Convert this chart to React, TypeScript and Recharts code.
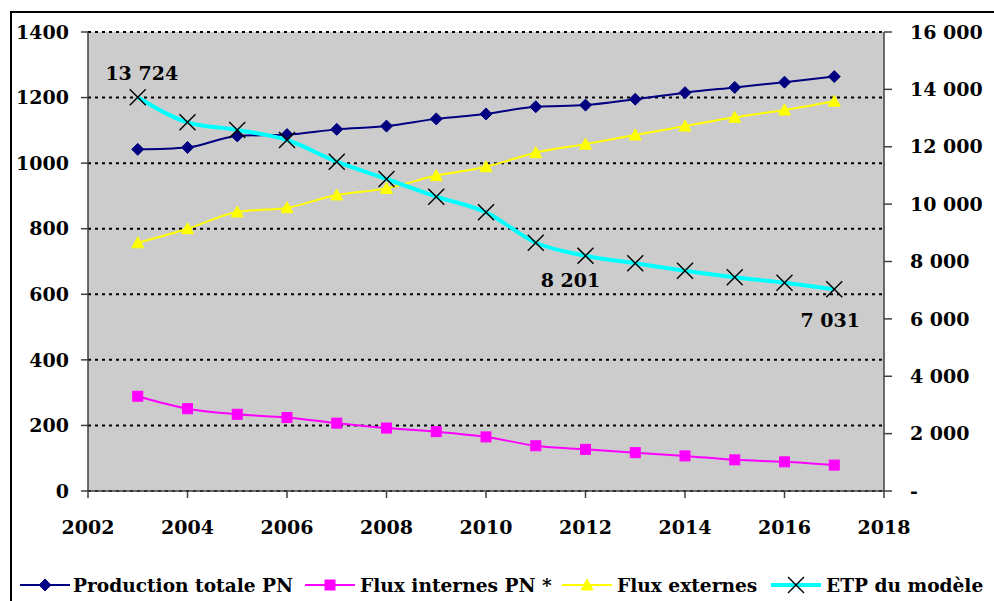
import React from "react";
import {
  ComposedChart,
  Line,
  XAxis,
  YAxis,
  CartesianGrid,
  Legend,
  LabelList,
} from "recharts";

const years = [2003, 2004, 2005, 2006, 2007, 2008, 2009, 2010, 2011, 2012, 2013, 2014, 2015, 2016, 2017];
const productionTotale = [1042, 1048, 1083, 1087, 1103, 1113, 1135, 1150, 1172, 1177, 1195, 1215, 1231, 1247, 1264];
const fluxInternes = [289, 251, 234, 224, 207, 192, 181, 165, 138, 127, 117, 107, 95, 89, 79];
const fluxExternes = [757, 800, 851, 864, 903, 923, 962, 989, 1032, 1058, 1086, 1113, 1140, 1162, 1189];
const etpModele = [13724, 12852, 12584, 12235, 11479, 10876, 10259, 9714, 8655, 8201, 7937, 7680, 7449, 7261, 7031];
const etpLabelled = [2003, 2012, 2017];

const xTicks = [2002, 2004, 2006, 2008, 2010, 2012, 2014, 2016, 2018];
const leftTicks = [0, 200, 400, 600, 800, 1000, 1200, 1400];
const rightTicks = [0, 2000, 4000, 6000, 8000, 10000, 12000, 14000, 16000];

const seriesNames = ["Production totale PN", "Flux internes PN *", "Flux externes", "ETP du modèle"];

const data = years.map((year, i) => ({
  year,
  prod: productionTotale[i],
  internes: fluxInternes[i],
  externes: fluxExternes[i],
  etp: etpModele[i],
  etpLabel: etpLabelled.includes(year) ? etpModele[i] : undefined,
}));

const FONT = "'DejaVu Serif', serif";
const NAVY = "#000080";
const MAGENTA = "#FF00FF";
const YELLOW = "#FFFF00";
const CYAN = "#00FFFF";

const fmtThousands = (v: number) =>
  v === 0 ? "-" : String(v).replace(/\B(?=(\d{3})+(?!\d))/g, " ");

const Diamond = ({ cx, cy }: any) => (
  <polygon points={`${cx},${cy - 6} ${cx + 6},${cy} ${cx},${cy + 6} ${cx - 6},${cy}`} fill={NAVY} stroke={NAVY} />
);
const Square = ({ cx, cy }: any) => (
  <rect x={cx - 5} y={cy - 5} width={10} height={10} fill={MAGENTA} stroke={MAGENTA} />
);
const Triangle = ({ cx, cy }: any) => (
  <polygon points={`${cx},${cy - 6} ${cx + 6},${cy + 5} ${cx - 6},${cy + 5}`} fill={YELLOW} stroke={YELLOW} />
);
const Cross = ({ cx, cy }: any) => (
  <g stroke="#000" strokeWidth={1.5}>
    <line x1={cx - 8} y1={cy - 8} x2={cx + 8} y2={cy + 8} />
    <line x1={cx - 8} y1={cy + 8} x2={cx + 8} y2={cy - 8} />
  </g>
);

// label placement around the ETP points
const labelOffsets: Record<number, [number, number]> = {
  2003: [4, -24],
  2012: [-15, 24],
  2017: [-4, 31],
};

const EtpLabel = (props: any) => {
  const { x, y, value, index } = props;
  if (value === undefined || value === null) return null;
  const [dx, dy] = labelOffsets[years[index]] || [0, 0];
  return (
    <text
      x={x + dx}
      y={y + dy}
      textAnchor="middle"
      dominantBaseline="central"
      fontFamily={FONT}
      fontWeight="bold"
      fontSize={19}
      fill="#000"
    >
      {fmtThousands(value)}
    </text>
  );
};

const legendItems = [
  { name: seriesNames[0], color: NAVY, width: 2, Marker: Diamond, x0: 20, tx: 73 },
  { name: seriesNames[1], color: MAGENTA, width: 2, Marker: Square, x0: 305, tx: 360 },
  { name: seriesNames[2], color: YELLOW, width: 2, Marker: Triangle, x0: 562, tx: 617 },
  { name: seriesNames[3], color: CYAN, width: 4, Marker: Cross, x0: 771, tx: 826 },
];

const LegendRow = () => (
  <svg width={994} height={50}>
    {legendItems.map((it) => (
      <g key={it.name}>
        <line x1={it.x0} y1={34} x2={it.x0 + 50} y2={34} stroke={it.color} strokeWidth={it.width} />
        <it.Marker cx={it.x0 + 25} cy={34} />
        <text x={it.tx} y={41} fontFamily={FONT} fontWeight="bold" fontSize={18.6} fill="#000">
          {it.name}
        </text>
      </g>
    ))}
  </svg>
);

const tickStyle = { fontFamily: FONT, fontWeight: "bold", fontSize: 19, fill: "#000" };

export default function App() {
  return (
    <div style={{ position: "absolute", left: 0, top: 0, width: 994, height: 601, overflow: "hidden", background: "#fff" }}>
      <div
        style={{
          position: "absolute",
          left: 10,
          top: 11,
          width: 1000,
          height: 700,
          border: "2px solid #000",
        }}
      />
      <div style={{ position: "absolute", left: 0, top: 0 }}>
        <ComposedChart width={994} height={601} data={data} margin={{ top: 32, right: 0, bottom: 0, left: 0 }}>
          <CartesianGrid
            yAxisId="left"
            vertical={false}
            fill="#CCCCCC"
            fillOpacity={1}
            stroke="#000"
            strokeWidth={2}
            strokeDasharray="3 4"
          />
          <XAxis
            dataKey="year"
            type="number"
            domain={[2002, 2018]}
            ticks={xTicks}
            height={60}
            tickSize={7}
            tickMargin={23}
            tick={tickStyle}
            stroke="#404040"
            strokeWidth={1.5}
          />
          <YAxis
            yAxisId="left"
            domain={[0, 1400]}
            ticks={leftTicks}
            width={88}
            tickSize={7}
            tickMargin={12}
            tick={tickStyle}
            stroke="#404040"
            strokeWidth={1.5}
            interval={0}
          />
          <YAxis
            yAxisId="right"
            orientation="right"
            domain={[0, 16000]}
            ticks={rightTicks}
            width={110}
            tickSize={8}
            tickMargin={18}
            tick={tickStyle}
            tickFormatter={fmtThousands}
            stroke="#404040"
            strokeWidth={1.5}
            interval={0}
          />
          <Legend verticalAlign="bottom" content={<LegendRow />} wrapperStyle={{ left: 0, bottom: 0, width: 994, height: 50 }} />
          <Line
            yAxisId="left"
            type="monotone"
            dataKey="prod"
            name={seriesNames[0]}
            stroke={NAVY}
            strokeWidth={2}
            dot={<Diamond />}
            isAnimationActive={false}
          />
          <Line
            yAxisId="left"
            type="monotone"
            dataKey="internes"
            name={seriesNames[1]}
            stroke={MAGENTA}
            strokeWidth={2}
            dot={<Square />}
            isAnimationActive={false}
          />
          <Line
            yAxisId="left"
            type="monotone"
            dataKey="externes"
            name={seriesNames[2]}
            stroke={YELLOW}
            strokeWidth={2}
            dot={<Triangle />}
            isAnimationActive={false}
          />
          <Line
            yAxisId="right"
            type="monotone"
            dataKey="etp"
            name={seriesNames[3]}
            stroke={CYAN}
            strokeWidth={4}
            dot={<Cross />}
            isAnimationActive={false}
          >
            <LabelList dataKey="etpLabel" content={<EtpLabel />} />
          </Line>
        </ComposedChart>
      </div>
    </div>
  );
}
